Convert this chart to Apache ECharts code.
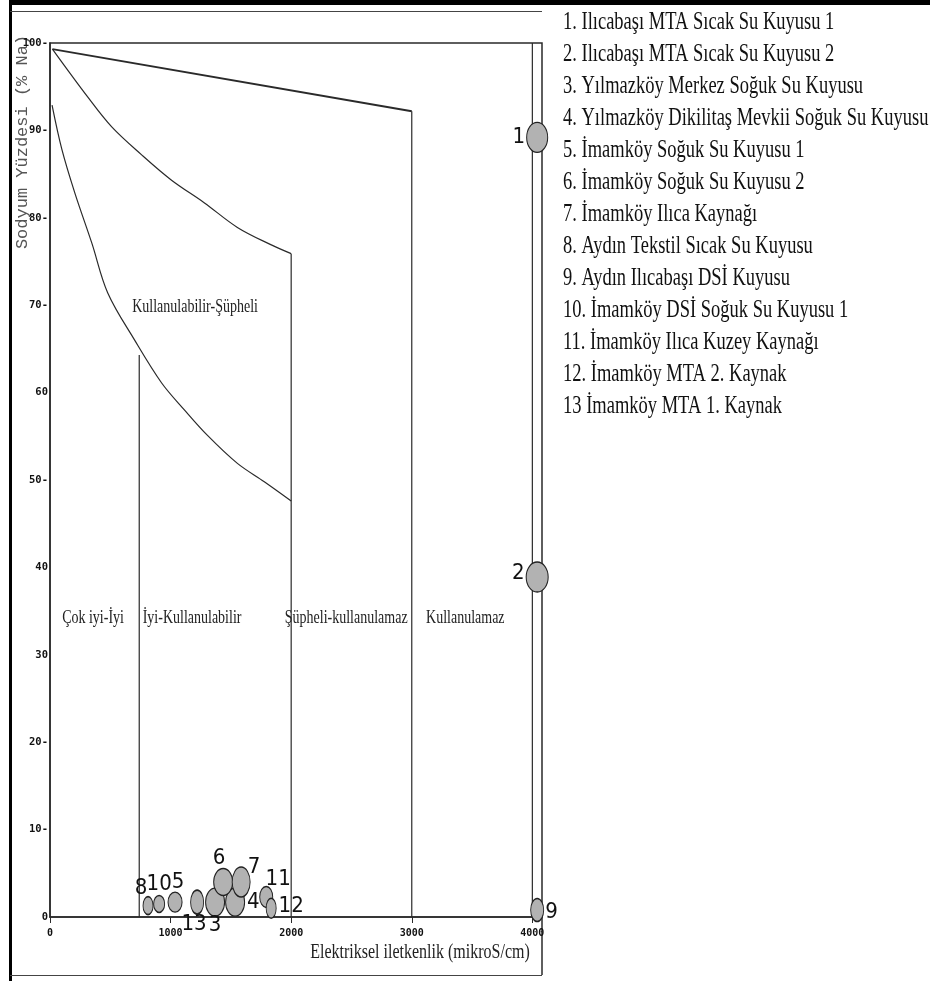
<!DOCTYPE html>
<html>
<head>
<meta charset="utf-8">
<script src="https://cdn.jsdelivr.net/npm/echarts@6/dist/echarts.min.js"></script>
<style>
  html, body { margin: 0; padding: 0; background: #fff; }
  #chart { width: 930px; height: 981px; }
</style>
</head>
<body>
<div id="chart"></div>
<script>
// ---- Station list (numbered names shown on the right) ----
const stationIds = ['1', '2', '3', '4', '5', '6', '7', '8', '9', '10', '11', '12', '13'];
const stationNames = [
  '1. Ilıcabaşı MTA Sıcak Su Kuyusu 1',
  '2. Ilıcabaşı MTA Sıcak Su Kuyusu 2',
  '3. Yılmazköy Merkez Soğuk Su Kuyusu',
  '4. Yılmazköy Dikilitaş Mevkii Soğuk Su Kuyusu',
  '5. İmamköy Soğuk Su Kuyusu 1',
  '6. İmamköy Soğuk Su Kuyusu 2',
  '7. İmamköy Ilıca Kaynağı',
  '8. Aydın Tekstil Sıcak Su Kuyusu',
  '9. Aydın Ilıcabaşı DSİ Kuyusu',
  '10. İmamköy DSİ Soğuk Su Kuyusu 1',
  '11. İmamköy Ilıca Kuzey Kaynağı',
  '12. İmamköy MTA 2. Kaynak',
  '13 İmamköy MTA 1. Kaynak'
];

// Electrical conductivity (µS/cm) of each station
const conductivity = [4040, 4040, 1369, 1535, 1037, 1436, 1585, 813, 4040, 905, 1793, 1834, 1220];
// Sodium percentage (% Na) of each station
const sodiumPct = [89.2, 38.9, 1.7, 1.7, 1.7, 4.0, 4.0, 1.3, 0.8, 1.5, 2.3, 1.0, 1.7];

// ---- Wilcox class boundaries ([EC, %Na]) ----
const boundaryTop = [[20, 99.3], [3000, 92.2]];
const boundaryMid = [[20, 99.3], [314, 93.8], [512, 90.4], [760, 87.2], [1008, 84.3], [1281, 81.7],
                     [1554, 78.9], [1835, 76.9], [2000, 75.9]];
const boundaryLow = [[17, 92.9], [99, 87.8], [207, 82.8], [347, 77.1], [479, 71.4], [702, 66.0],
                     [926, 61.1], [1116, 58.0], [1306, 55.1], [1554, 51.9], [1777, 49.8], [2000, 47.6]];
const classDividers = [
  [[740, 64.3], [740, 0]],
  [[2000, 75.9], [2000, 0]],
  [[3000, 92.2], [3000, 0]],
  [[4000, 100], [4000, 0]]
];
const zoneNames = ['Kullanulabilir-Şüpheli', 'Çok iyi-İyi', 'İyi-Kullanulabilir', 'Şüpheli-kullanulamaz', 'Kullanulamaz'];

// ---- Axis tick labels ----
const xTickLabels = ['0', '1000', '2000', '3000', '4000'];
const yTickLabels = ['0', '10-', '20-', '30', '40', '50-', '60', '70-', '80-', '90-', '100-'];

// ---- Layout / style (kept apart from the data) ----
const zoneAnchors = [[1203, 69.8], [357, 34.2], [1178, 34.2], [2456, 34.2], [3444, 34.2]];
const markerSize = [[21, 30], [22, 30], [19, 28], [19, 28], [14, 20], [19, 27], [18, 30],
                    [10, 18], [13, 23], [11, 17], [13, 21], [10, 20], [13, 24]];
const labelPlacement = [
  { position: 'left', distance: 1 },
  { position: 'left', distance: 1, offset: [0, -4] },
  { position: 'bottom', distance: -3 },
  { position: 'right', distance: 2 },
  { position: 'top', distance: -2, offset: [3, 0] },
  { position: 'top', distance: -1, offset: [-4, 0] },
  { position: 'top', distance: -1, offset: [13, 11] },
  { position: 'top', distance: -3, offset: [-7, 0] },
  { position: 'right', distance: 1, offset: [0, 2] },
  { position: 'top', distance: -1 },
  { position: 'top', distance: -1, offset: [12, 4] },
  { position: 'right', distance: 2, offset: [0, -2] },
  { position: 'bottom', distance: -2, offset: [-3, 0] }
];

const labelFont = '"Liberation Sans Narrow", "DejaVu Sans Condensed", "Liberation Sans", sans-serif';
const tickFont = '"DejaVu Sans Mono", monospace';

const boundaryStyle = { color: '#2a2a2a', width: 1.2 };
const lineSeries = (data, smooth, width) => ({
  type: 'line',
  data: data,
  smooth: smooth,
  symbol: 'none',
  silent: true,
  z: 2,
  lineStyle: { color: boundaryStyle.color, width: width || boundaryStyle.width },
  animation: false
});

const stationData = stationIds.map((id, i) => ({
  name: id,
  value: [conductivity[i], sodiumPct[i]],
  symbolSize: markerSize[i],
  label: Object.assign({ show: true, formatter: id }, labelPlacement[i])
}));

const option = {
  backgroundColor: '#ffffff',
  animation: false,
  grid: {
    left: 50, right: 388, top: 43, bottom: 64,
    show: true, borderColor: '#2a2a2a', borderWidth: 1.5, backgroundColor: 'transparent'
  },
  xAxis: {
    type: 'value',
    min: 0, max: 4080, interval: 1000,
    splitLine: { show: false },
    axisLine: { show: true, onZero: false, lineStyle: { color: '#2a2a2a', width: 1.5 } },
    axisTick: { show: true, length: 6, lineStyle: { color: '#2a2a2a' } },
    axisLabel: {
      showMaxLabel: false,
      margin: 11,
      color: '#111',
      fontSize: 10,
      fontWeight: 'bold',
      fontFamily: tickFont,
      formatter: v => (v % 1000 === 0 ? xTickLabels[v / 1000] : '')
    }
  },
  yAxis: {
    type: 'value',
    min: 0, max: 100, interval: 10,
    splitLine: { show: false },
    axisLine: { show: true, onZero: false, lineStyle: { color: '#2a2a2a', width: 1.5 } },
    axisTick: { show: false },
    axisLabel: {
      margin: 2,
      color: '#111',
      fontSize: 10.5,
      fontWeight: 'bold',
      fontFamily: tickFont,
      formatter: v => yTickLabels[Math.round(v / 10)]
    }
  },
  series: [
    lineSeries(boundaryTop, false, 2),
    lineSeries(boundaryMid, 0.35),
    lineSeries(boundaryLow, 0.35),
    ...classDividers.map(seg => lineSeries(seg, false)),
    {
      type: 'scatter',
      data: stationData,
      z: 5,
      itemStyle: { color: '#b2b2b2', borderColor: '#222', borderWidth: 1.2, opacity: 1 },
      label: {
        color: '#111',
        fontSize: 22,
        fontFamily: labelFont
      },
      emphasis: { disabled: true }
    }
  ]
};

const chart = echarts.init(document.getElementById('chart'), null, { renderer: 'canvas' });
chart.setOption(option);

// Zone captions placed at data coordinates, drawn slightly tall
const zoneGraphics = zoneNames.map((t, i) => {
  const p = chart.convertToPixel({ gridIndex: 0 }, zoneAnchors[i]);
  return {
    type: 'text', x: p[0], y: p[1], scaleY: 1.3, silent: true, z: 10,
    style: { text: t, fontSize: 14, fontFamily: '"Liberation Serif", serif', fill: '#222',
             align: 'center', verticalAlign: 'middle' }
  };
});

// Numbered station list on the right
const listGraphics = stationNames.map((t, i) => ({
  type: 'text', x: 563, y: 22 + i * 32, scaleY: 1.35, silent: true, z: 10,
  style: { text: t, fontSize: 18.5, fontFamily: '"Liberation Serif", serif', fill: '#111',
           align: 'left', verticalAlign: 'middle' }
}));

// Axis titles and panel frame
const frameGraphics = [
  { type: 'line', silent: true, shape: { x1: 10, y1: 2.5, x2: 930, y2: 2.5 }, style: { stroke: '#000', lineWidth: 5 } },
  { type: 'line', silent: true, shape: { x1: 10.5, y1: 0, x2: 10.5, y2: 981 }, style: { stroke: '#000', lineWidth: 3 } },
  { type: 'line', silent: true, shape: { x1: 10, y1: 11.5, x2: 542, y2: 11.5 }, style: { stroke: '#444', lineWidth: 1 } },
  { type: 'line', silent: true, shape: { x1: 542, y1: 917, x2: 542, y2: 975 }, style: { stroke: '#2a2a2a', lineWidth: 1.5 } },
  { type: 'line', silent: true, shape: { x1: 10, y1: 975.5, x2: 542, y2: 975.5 }, style: { stroke: '#444', lineWidth: 1 } },
  {
    type: 'text', x: 22, y: 142, rotation: Math.PI / 2, silent: true,
    style: { text: 'Sodyum Yüzdesi (% Na)', fontSize: 17, fontFamily: '"Liberation Mono", monospace',
             fill: '#555', align: 'center', verticalAlign: 'middle' }
  },
  {
    type: 'text', x: 420, y: 953, scaleY: 1.25, silent: true,
    style: { text: 'Elektriksel iletkenlik (mikroS/cm)', fontSize: 16, fontFamily: '"Liberation Serif", serif',
             fill: '#222', align: 'center', verticalAlign: 'middle' }
  }
];

chart.setOption({ graphic: [...frameGraphics, ...zoneGraphics, ...listGraphics] });
</script>
</body>
</html>
